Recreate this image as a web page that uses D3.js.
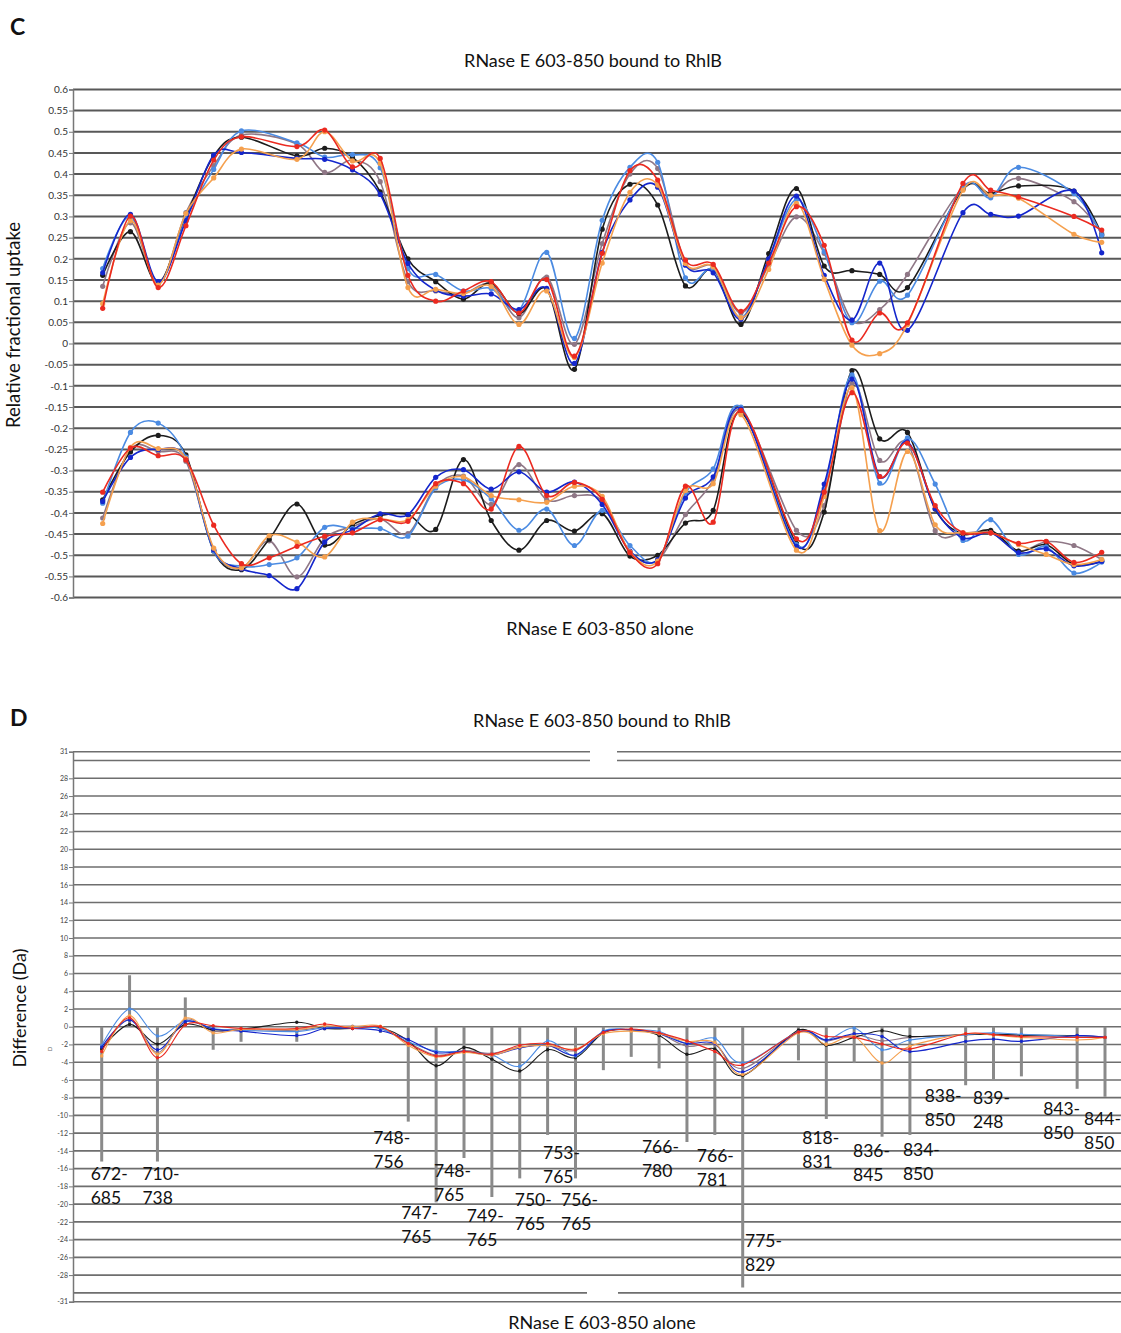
<!DOCTYPE html>
<html>
<head>
<meta charset="utf-8">
<script src="https://cdn.jsdelivr.net/npm/d3@7"></script>
<style>
  body { margin: 0; background: #fff; }
  text { font-family: Lato, "Open Sans", sans-serif; }
</style>
</head>
<body>
<div class="chart"></div>
<script>
// peptide positions along the sequence (same 37 slots in both panels)
var slots = d3.range(37);

// Panel C, upper group: RNase E 603-850 bound to RhlB (one array per time point / colour)
var boundBlack    = [0.161,0.264,0.143,0.300,0.443,0.487,null,0.443,0.461,0.440,0.358,0.200,0.146,0.105,0.143,0.071,0.128,-0.061,0.270,0.376,0.327,0.136,0.175,0.045,0.212,0.366,0.183,0.172,0.163,0.132,null,0.364,0.354,0.372,null,0.360,0.256];
var boundDarkBlue = [0.167,0.305,0.146,0.290,0.445,0.451,null,0.437,0.435,0.410,0.352,0.189,0.126,0.112,0.117,0.080,0.130,-0.047,0.215,0.339,0.369,0.185,0.167,0.057,0.200,0.348,0.161,0.055,0.190,0.031,null,0.309,0.305,0.301,null,0.360,0.214];
var boundLightBlue= [0.177,0.300,0.142,0.295,0.411,0.502,null,0.474,0.440,0.446,0.415,0.177,0.163,0.124,0.130,0.079,0.215,0.012,0.291,0.416,0.428,0.155,0.175,0.061,0.198,0.340,0.217,0.049,0.147,0.114,null,0.369,0.344,0.416,null,0.354,0.256];
var boundMauve    = [0.135,0.285,0.140,0.309,0.420,0.492,null,0.471,0.404,0.433,0.382,0.146,0.124,0.118,0.140,0.061,0.157,-0.002,0.236,0.400,0.413,0.190,0.181,0.072,0.185,0.299,0.213,0.055,0.080,0.163,null,0.369,0.350,0.390,null,0.335,0.260];
var boundRed      = [0.083,0.301,0.132,0.278,0.433,0.488,null,0.465,0.504,0.417,0.437,0.161,0.100,0.124,0.146,0.072,0.151,-0.030,0.213,0.408,0.386,0.197,0.187,0.076,0.190,0.323,0.232,0.008,0.072,0.049,null,0.378,0.362,0.346,null,0.300,0.268];
var boundOrange   = [0.094,0.290,0.138,0.307,0.391,0.459,null,0.435,0.500,0.431,0.425,0.132,0.128,0.118,0.135,0.045,0.124,-0.033,0.190,0.357,0.374,0.189,0.181,0.061,0.175,0.331,0.152,-0.004,-0.024,0.045,null,0.362,0.350,0.343,null,0.258,0.239];

// Panel C, lower group: RNase E 603-850 alone
var aloneBlack    = [-0.369,-0.256,-0.217,-0.263,-0.490,-0.534,-0.462,-0.379,-0.476,-0.428,-0.406,-0.404,-0.439,-0.274,-0.418,-0.488,-0.418,-0.443,-0.402,-0.502,-0.500,-0.424,-0.394,-0.163,null,-0.472,-0.398,-0.064,-0.225,-0.210,-0.391,-0.450,-0.441,-0.490,-0.475,-0.522,-0.514];
var aloneDarkBlue = [-0.373,-0.269,-0.250,-0.272,-0.487,-0.532,-0.548,-0.579,-0.469,-0.440,-0.402,-0.404,-0.316,-0.298,-0.344,-0.303,-0.351,-0.327,-0.380,-0.490,-0.510,-0.365,-0.315,-0.155,null,-0.479,-0.332,-0.084,-0.314,-0.232,-0.390,-0.459,-0.447,-0.494,-0.485,-0.525,-0.514];
var aloneLightBlue= [-0.377,-0.210,-0.188,-0.268,-0.490,-0.526,-0.522,-0.506,-0.434,-0.437,-0.437,-0.455,-0.341,-0.322,-0.367,-0.441,-0.391,-0.477,-0.394,-0.477,-0.512,-0.353,-0.296,-0.150,null,-0.475,-0.342,-0.074,-0.330,-0.223,-0.332,-0.465,-0.416,-0.498,-0.480,-0.542,-0.516];
var aloneMauve    = [-0.412,-0.250,-0.255,-0.278,-0.488,-0.530,-0.466,-0.551,-0.460,-0.432,-0.414,-0.449,-0.337,-0.313,-0.380,-0.286,-0.369,-0.359,-0.372,-0.492,-0.512,-0.404,-0.322,-0.158,null,-0.441,-0.383,-0.094,-0.276,-0.235,-0.442,-0.447,-0.447,-0.490,-0.468,-0.477,-0.510];
var aloneRed      = [-0.351,-0.247,-0.265,-0.275,-0.429,-0.520,-0.506,-0.479,-0.455,-0.447,-0.416,-0.420,-0.331,-0.331,-0.391,-0.243,-0.359,-0.328,-0.368,-0.494,-0.520,-0.337,-0.422,-0.158,null,-0.461,-0.351,-0.116,-0.314,-0.235,-0.383,-0.447,-0.447,-0.472,-0.467,-0.517,-0.493];
var aloneOrange   = [-0.425,-0.245,-0.248,-0.272,-0.483,-0.530,-0.454,-0.469,-0.504,-0.422,-0.414,-0.416,-0.337,-0.315,-0.359,-0.369,-0.375,-0.337,-0.361,-0.492,-0.514,-0.347,-0.331,-0.168,null,-0.488,-0.361,-0.105,-0.442,-0.255,-0.428,-0.447,-0.447,-0.475,-0.498,-0.522,-0.510];

// Panel D: mass difference (Da) per time point
var diffBlack     = [-2.5,0.26,-1.96,0.26,-0.35,-0.3,null,0.5,-0.2,-0.2,-0.1,-1.6,-4.4,-2.34,-3.66,-5.0,-2.6,-3.5,-0.7,-0.35,-1.0,-3.1,-2.5,-5.5,null,-0.4,-2.1,-1.2,-0.45,-1.1,null,-0.9,-0.85,-0.95,null,-1.0,-1.2];
var diffDarkBlue  = [-2.3,0.75,-2.6,0.57,-0.26,-0.5,null,-1.0,-0.2,-0.2,-0.45,-1.45,-2.9,-2.8,-3.2,-2.4,-2.1,-3.2,-0.6,-0.35,-0.8,-1.9,-1.9,-5.1,null,-0.6,-1.5,-0.8,-1.1,-2.8,null,-1.65,-1.4,-1.65,null,-1.0,-1.2];
var diffLightBlue = [-2.1,2.0,-1.05,0.64,-0.2,-0.4,null,-0.55,-0.1,-0.1,-0.2,-1.7,-2.75,-2.8,-3.2,-4.45,-1.6,-3.3,-0.5,-0.35,-0.55,-1.9,-1.3,-4.1,null,-0.6,-1.5,-0.15,-2.6,-1.5,null,-0.9,-0.7,-0.85,null,-1.1,-1.2];
var diffMauve     = [-2.6,0.87,-2.9,0.8,-0.5,-0.35,null,-0.4,0.0,0.07,-0.2,-1.8,-3.2,-2.7,-3.0,-2.3,-2.15,-2.7,-0.6,-0.35,-0.8,-2.2,-2.0,-4.7,null,-0.6,-1.6,-0.9,-1.6,-1.2,null,-0.85,-0.85,-0.95,null,-1.2,-1.2];
var diffRed       = [-2.8,1.0,-3.5,0.2,0.1,-0.2,null,-0.2,0.3,-0.2,0.0,-1.9,-3.3,-2.8,-3.1,-2.1,-1.9,-2.6,-0.65,-0.26,-0.7,-1.6,-2.8,-4.3,null,-0.6,-1.1,-1.2,-1.95,-2.5,null,-0.8,-0.9,-1.1,null,-1.2,-1.2];
var diffOrange    = [-3.3,1.25,-3.1,0.95,-0.7,-0.3,null,-0.3,0.1,0.0,0.07,-2.1,-3.4,-2.9,-3.2,-2.3,-2.1,-2.5,-0.8,-0.5,-0.8,-1.65,-1.8,-5.4,null,-0.7,-2.0,-1.1,-4.1,-2.2,null,-0.8,-0.95,-1.2,null,-1.5,-1.2];

// Panel D: grey difference bars and their peptide labels
var barSlots  = [0,1,2,3,4,5,7,8,10,11,12,13,14,15,16,17,18,19,20,21,22,23,25,26,27,28,29,31,32,33,35,36];
var barValues = [-15.2,5.8,-15.2,3.3,-2.6,-1.7,-1.7,-0.4,-0.7,-10.7,-19.8,-14.8,-19.2,-17.1,-12.2,-17.1,-4.9,-3.4,-4.7,-13.0,-12.2,-29.4,-3.8,-10.4,-4.1,-12.4,-12.2,-6.6,-5.9,-5.6,-7.0,-7.9];
var barLabels = ["672-685","","710-738","","","","","","","748-756","747-765","748-765","749-765","750-765","753-765","756-765","","","","766-780","766-781","775-829","","818-831","","836-845","834-850","838-850","839-248","","843-850","844-850"];

// tick labels
var cTicks = d3.range(-12, 13).map(function(k) { return k * 0.05; });
var dTicks = [31, 28, 26, 24, 22, 20, 18, 16, 14, 12, 10, 8, 6, 4, 2, 0, -2, -4, -6, -8, -10, -12, -14, -16, -18, -20, -22, -24, -26, -28, -31];
var dGrid = dTicks.concat([30, -30]);

// ---- layout (not data) ----
var colors = {
  black: "#1c1c1c",
  darkBlue: "#1426cc",
  lightBlue: "#4b8be2",
  mauve: "#8f7786",
  red: "#eb2a20",
  orange: "#f5a04e"
};
// label placement relative to the end of each labelled bar: [dx, dy]
var labelOffsets = {
  0: [-11, 18.5], 2: [-15, 18.5], 11: [-35, 22.4], 12: [-35, 16.7], 13: [-30, 19],
  14: [-25, 25], 15: [-5, 27.6], 16: [-4.6, 24], 17: [-14.5, 27.6], 21: [-45, 11],
  22: [-18, 27], 23: [2.3, -40.5], 26: [-24, 25], 28: [-29, 20], 29: [-7, 21],
  31: [-41, 17], 32: [-20.5, 25], 35: [-34, 26], 36: [-21, 28]
};

var svgWidth = 1121;
var svgHeight = 1333;
var axisX = 73;

var svg = d3.select(".chart")
  .append("svg")
  .attr("width", svgWidth)
  .attr("height", svgHeight);

svg.append("rect").attr("width", svgWidth).attr("height", svgHeight).attr("fill", "#fff");

// ================= Panel C =================
var xC = d3.scalePoint().domain(slots).range([102.7, 1101.7]);
var yC = d3.scaleLinear().domain([-0.6, 0.6]).range([597.6, 89.4]);

var gC = svg.append("g");

gC.selectAll(".gridC")
  .data(cTicks)
  .enter()
  .append("line")
  .attr("x1", axisX)
  .attr("x2", svgWidth)
  .attr("y1", d => yC(d))
  .attr("y2", d => yC(d))
  .attr("stroke", "#585858")
  .attr("stroke-width", 2);

var leftAxisC = d3.axisLeft(yC)
  .tickValues(cTicks)
  .tickSize(4)
  .tickFormat(d => String(+d.toFixed(2)));

gC.append("g")
  .attr("transform", `translate(${axisX}, 0)`)
  .call(leftAxisC)
  .call(g => g.select(".domain").attr("stroke", "#777").attr("stroke-width", 1.5))
  .call(g => g.selectAll(".tick line").attr("stroke", "#777"))
  .call(g => g.selectAll(".tick text")
    .attr("font-family", "Lato, sans-serif")
    .attr("font-size", 10)
    .attr("fill", "#333")
    .attr("x", -5));

var smooth = d3.curveCatmullRom.alpha(0);

function drawSeries(g, xs, ys, values, color, width, r) {
  var pts = slots.map((s, i) => ({ s: s, v: values[i] })).filter(p => p.v !== null);
  var line = d3.line()
    .x(p => xs(p.s))
    .y(p => ys(p.v))
    .curve(smooth);
  g.append("path")
    .datum(pts)
    .attr("d", line)
    .attr("fill", "none")
    .attr("stroke", color)
    .attr("stroke-width", width);
  g.selectAll(null)
    .data(pts)
    .enter()
    .append("circle")
    .attr("cx", p => xs(p.s))
    .attr("cy", p => ys(p.v))
    .attr("r", r)
    .attr("fill", color);
}

var cSeries = [
  [boundMauve, colors.mauve], [boundBlack, colors.black], [boundLightBlue, colors.lightBlue],
  [boundDarkBlue, colors.darkBlue], [boundOrange, colors.orange], [boundRed, colors.red],
  [aloneMauve, colors.mauve], [aloneBlack, colors.black], [aloneLightBlue, colors.lightBlue],
  [aloneDarkBlue, colors.darkBlue], [aloneOrange, colors.orange], [aloneRed, colors.red]
];
cSeries.forEach(function(s) {
  drawSeries(gC, xC, yC, s[0], s[1], 1.6, 2.6);
});

// ================= Panel D =================
var xD = d3.scalePoint().domain(slots).range([101.7, 1105]);
var yD = d3.scaleLinear().domain([-31, 31]).range([1301.7, 751.7]);

var gD = svg.append("g");

gD.selectAll(".gridD")
  .data(dGrid)
  .enter()
  .append("line")
  .attr("x1", axisX)
  .attr("x2", svgWidth)
  .attr("y1", d => yD(d))
  .attr("y2", d => yD(d))
  .attr("stroke", "#6e6e6e")
  .attr("stroke-width", 1.6);

// white breaks in the outer grid lines
gD.append("rect").attr("x", 590).attr("y", yD(31) - 2).attr("width", 27).attr("height", yD(30) - yD(31) + 4).attr("fill", "#fff");
gD.append("rect").attr("x", 587).attr("y", yD(-30) - 2).attr("width", 31).attr("height", 4).attr("fill", "#fff");

var leftAxisD = d3.axisLeft(yD)
  .tickValues(dTicks)
  .tickSize(4)
  .tickFormat(d => String(d));

gD.append("g")
  .attr("transform", `translate(${axisX}, 0)`)
  .call(leftAxisD)
  .call(g => g.select(".domain").attr("stroke", "#777").attr("stroke-width", 1.5))
  .call(g => g.selectAll(".tick line").attr("stroke", "#777"))
  .call(g => g.selectAll(".tick text")
    .attr("font-family", "Lato, sans-serif")
    .attr("font-size", 7)
    .attr("fill", "#444")
    .attr("x", -5));

// grey difference bars
var bars = barSlots.map((s, i) => ({ s: s, v: barValues[i], label: barLabels[i] }));

gD.selectAll(".bar")
  .data(bars)
  .enter()
  .append("line")
  .attr("x1", d => xD(d.s))
  .attr("x2", d => xD(d.s))
  .attr("y1", yD(0))
  .attr("y2", d => yD(d.v))
  .attr("stroke", "#8a8a8a")
  .attr("stroke-width", 3);

var dSeries = [
  [diffMauve, colors.mauve], [diffBlack, colors.black], [diffLightBlue, colors.lightBlue],
  [diffDarkBlue, colors.darkBlue], [diffOrange, colors.orange], [diffRed, colors.red]
];
dSeries.forEach(function(s) {
  drawSeries(gD, xD, yD, s[0], s[1], 1.1, 1.7);
});

// peptide labels, two lines each
var labelled = bars.filter(d => d.label !== "");
var labelText = gD.selectAll(".pep")
  .data(labelled)
  .enter()
  .append("text")
  .attr("font-size", 17.5)
  .attr("fill", "#111")
  .attr("transform", d => `translate(${xD(d.s) + labelOffsets[d.s][0]}, ${yD(d.v) + labelOffsets[d.s][1]})`);

labelText.append("tspan")
  .attr("x", 0)
  .attr("y", 0)
  .text(d => d.label.split("-")[0] + "-");
labelText.append("tspan")
  .attr("x", 0)
  .attr("y", 24)
  .text(d => d.label.split("-")[1]);

// ================= Texts =================
function addText(x, y, str, size, extra) {
  var t = svg.append("text")
    .attr("x", x)
    .attr("y", y)
    .attr("font-size", size)
    .attr("fill", "#111")
    .text(str);
  if (extra) extra(t);
  return t;
}

addText(10, 35, "C", 23, t => t.attr("font-weight", "bold"));
addText(10, 726, "D", 23, t => t.attr("font-weight", "bold"));

addText(593, 67, "RNase E 603-850 bound to RhlB", 18, t => t.attr("text-anchor", "middle"));
addText(600, 635, "RNase E 603-850 alone", 18, t => t.attr("text-anchor", "middle"));
addText(602, 727, "RNase E 603-850 bound to RhlB", 18, t => t.attr("text-anchor", "middle"));
addText(602, 1329, "RNase E 603-850 alone", 18, t => t.attr("text-anchor", "middle"));

addText(0, 0, "Relative fractional uptake", 18.5, t => t.attr("text-anchor", "middle")
  .attr("transform", "translate(20, 325) rotate(-90)"));
addText(0, 0, "Difference (Da)", 18, t => t.attr("text-anchor", "middle")
  .attr("transform", "translate(26, 1008) rotate(-90)"));
addText(0, 0, "D", 6, t => t.attr("text-anchor", "middle").attr("fill", "#666")
  .attr("transform", "translate(52, 1049) rotate(-90)"));
</script>
</body>
</html>
